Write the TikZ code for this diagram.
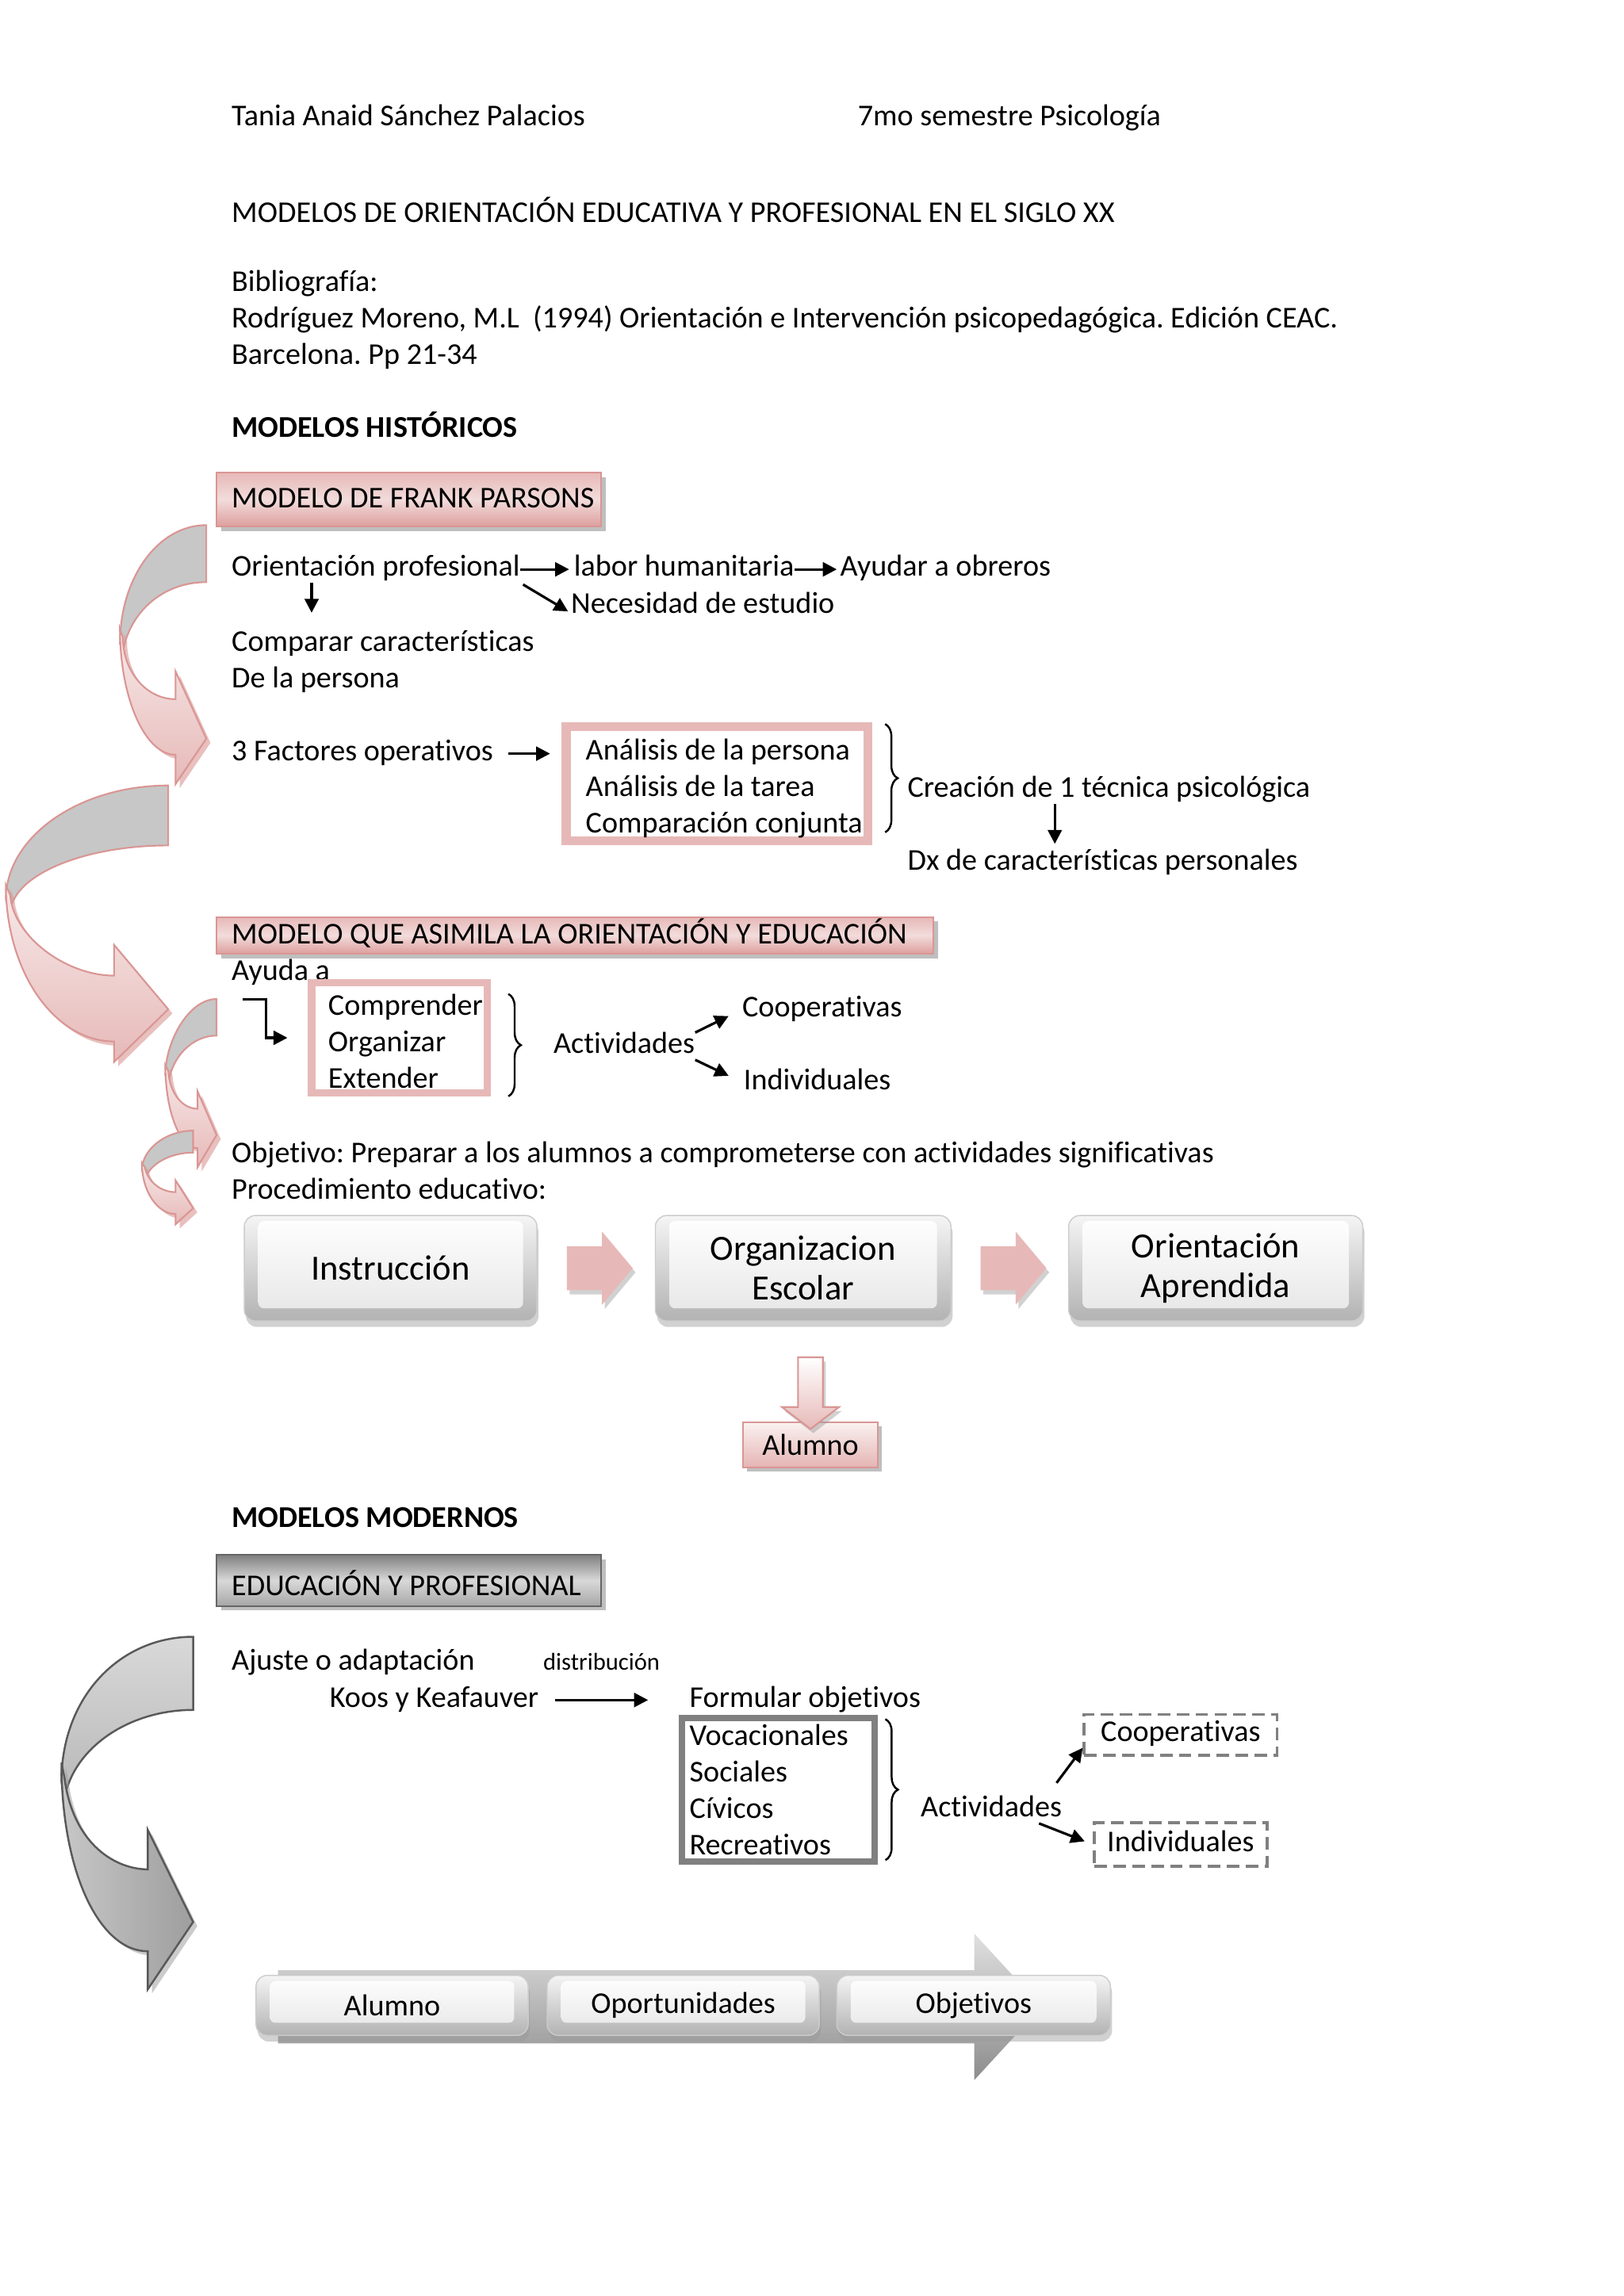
\documentclass[tikz,border=0pt]{standalone}
\usepackage{fontspec}
\setmainfont{Carlito}[Ligatures={NoCommon}]
\usetikzlibrary{arrows.meta,shadows,decorations.pathreplacing}
\newdimen\pxu \pxu=0.52495pt
\newcommand\bodyf{\fontsize{10.85pt}{13.1pt}\selectfont}
\newcommand\bigf{\fontsize{12.7pt}{14.2pt}\selectfont}
\newcommand\smallf{\fontsize{8.7pt}{10.5pt}\selectfont}
\definecolor{pinkA}{HTML}{E6B9B8}
\definecolor{pinkL}{HTML}{F2DCDB}
\definecolor{pinkD}{HTML}{D99694}
\frenchspacing
\begin{document}
\begin{tikzpicture}[x=0.01845cm,y=-0.01845cm,
  txt/.style={anchor=base west, inner sep=0pt, font=\bodyf, text height=7.2pt, text depth=2.2pt, yshift=-3\pxu},
  mtxt/.style={anchor=west, inner sep=0pt, font=\bodyf, align=left, yshift=-1\pxu},
  arr/.style={line width=0.9pt, -{Triangle[length=5pt,width=5pt]}},
  brc/.style={decorate, decoration={brace, amplitude=4.5pt}, line width=0.7pt},
  pinkhead/.style={draw=pinkD, line width=0.6pt, top color=pinkA, bottom color=pinkD!75!pinkA, middle color=pinkL, inner sep=0pt,
    drop shadow={shadow xshift=1.6pt, shadow yshift=-1.6pt, fill=black!50, opacity=0.5}},
  greyhead/.style={draw=black!60, line width=0.6pt, top color=black!50, bottom color=black!35, middle color=black!15, inner sep=0pt,
    drop shadow={shadow xshift=1.6pt, shadow yshift=-1.6pt, fill=black!50, opacity=0.5}},
  pinkframe/.style={draw=pinkA, inner sep=0pt},
  greyframe/.style={draw=black!50, line width=2.3pt, inner sep=0pt},
  dashbox/.style={draw=black!50, line width=1pt, dash pattern=on 4.5pt off 2.3pt, font=\bodyf, inner sep=0pt, text height=7.2pt, text depth=2.2pt},
  pinkbox/.style={draw=pinkD, line width=0.6pt, top color=pinkL!40!white, bottom color=pinkA!85!pinkD, font=\bodyf, inner sep=0pt,
    text height=7.2pt, text depth=0pt,
    drop shadow={shadow xshift=1.4pt, shadow yshift=-1.4pt, fill=black!50, opacity=0.5}},
  bevel/.style={rounded corners=4pt, draw=black!20, line width=0.4pt, top color=black!4, bottom color=black!30, align=center, inner sep=0pt,
    drop shadow={shadow xshift=0.6pt, shadow yshift=-2.2pt, fill=black!40, opacity=0.45},
    path picture={\shade[top color=white, bottom color=black!10, rounded corners=2pt]
      ([xshift=5pt,yshift=-2pt]path picture bounding box.north west) rectangle ([xshift=-5pt,yshift=4.5pt]path picture bounding box.south east);}},
  blockpink/.style={fill=pinkA, drop shadow={shadow xshift=1pt, shadow yshift=-1.5pt, fill=black!40, opacity=0.45}},
  pinkdown/.style={draw=pinkD, line width=0.6pt, top color=white, bottom color=pinkA,
    drop shadow={shadow xshift=1pt, shadow yshift=-1.5pt, fill=black!40, opacity=0.45}},
  bigarrow/.style={top color=black!12, bottom color=black!45},
  caback/.style={draw=pinkD, line width=0.6pt, fill=black!22},
  cafront/.style={draw=pinkD, line width=0.6pt, top color=pinkL!60!white, bottom color=pinkA,
    drop shadow={shadow xshift=1.5pt, shadow yshift=-1.5pt, fill=pinkD, opacity=0.6}},
  gback/.style={draw=black!65, line width=0.7pt, top color=black!15, bottom color=black!28},
  gfront/.style={draw=black!65, line width=0.7pt, left color=black!22, right color=black!38,
    drop shadow={shadow xshift=1.5pt, shadow yshift=-1.5pt, fill=black!40, opacity=0.5}}
]
\fill[white] (0,0) rectangle (1110,1569.7);
\useasboundingbox (0,0) rectangle (1110,1569.7);

% ---------- header ----------
\node[txt] (h1) at (158,83) {Tania Anaid Sánchez Palacios};
\node[txt] (h2) at (586,83) {7mo semestre Psicología};
\node[txt] (h3) at (158,149) {MODELOS DE ORIENTACIÓN EDUCATIVA Y PROFESIONAL EN EL SIGLO XX};
\node[txt] (h4) at (158,196) {Bibliografía:};
\node[txt] (h5) at (158,221) {Rodríguez Moreno, M.L\ \ (1994) Orientación e Intervención psicopedagógica. Edición CEAC.};
\node[txt] (h6) at (158,246) {Barcelona. Pp 21-34};
\node[txt, font=\bodyf\bfseries] (h7) at (158,296) {MODELOS HISTÓRICOS};

% ---------- curved arrows ----------
% arrow 1
\path[caback] (141,359) .. controls (108,359) and (82,395) .. (82,440) -- (84,446) .. controls (88,420) and (110,398) .. (141,398) -- cycle;
\path[cafront] (82,430) .. controls (82,477) and (99,516) .. (120,516) -- (120,536) -- (141,505) -- (120,459) -- (120,478) .. controls (100,478) and (84,459) .. (84,436) -- cycle;
% arrow 2
\path[caback] (115,537) .. controls (54,537) and (4,572) .. (4,615) -- (7,625) .. controls (7,599) and (56,578) .. (115,578) -- cycle;
\path[cafront] (4,605) .. controls (4,664) and (37,712) .. (78,712) -- (78,726) -- (115,690) -- (78,646) -- (78,667) .. controls (45,667) and (9,640) .. (7,612) -- cycle;
% arrow 3
\path[caback] (148,683) .. controls (129,683) and (113,712) .. (113,735) -- (115,742) .. controls (117,722) and (132,708) .. (148,708) -- cycle;
\path[cafront] (113,728) .. controls (113,760) and (123,785) .. (135,785) -- (135,798) -- (148,776) -- (135,746) -- (135,758) .. controls (125,758) and (116,748) .. (115,732) -- cycle;
% arrow 4
\path[caback] (132,773) .. controls (113,773) and (97,786) .. (97,800) -- (99,806) .. controls (103,795) and (117,788) .. (132,788) -- cycle;
\path[cafront] (97,795) .. controls (97,815) and (108,830) .. (120,830) -- (120,837) -- (132,826) -- (120,807) -- (120,815) .. controls (110,815) and (101,808) .. (99,798) -- cycle;
% arrow 5 (grey)
\path[gback] (132,1119) .. controls (82,1119) and (42,1160) .. (42,1218) -- (44,1230) .. controls (50,1195) and (88,1169) .. (132,1169) -- cycle;
\path[gfront] (42,1205) .. controls (42,1280) and (68,1334) .. (101,1334) -- (101,1360) -- (132,1314) -- (101,1251) -- (101,1278) .. controls (80,1278) and (50,1262) .. (44,1215) -- cycle;

% ---------- Frank Parsons ----------
\node[pinkhead, minimum width=263\pxu, minimum height=37\pxu] (b1) at (279.5,341.5) {};
\node[txt] (b1t) at (158,344) {MODELO DE FRANK PARSONS};
\node[txt] (op) at (158,391) {Orientación profesional};
\node[txt] (lh) at (392,391) {labor humanitaria};
\node[txt] (ao) at (574,391) {Ayudar a obreros};
\node[txt] (ne) at (390,416) {Necesidad de estudio};
\node[txt] (cc) at (158,442) {Comparar características};
\node[txt] (dp) at (158,467) {De la persona};
\draw[arr, shorten >=3\pxu] (op.east) -- (lh.west);
\draw[arr, shorten >=2\pxu] (lh.east) -- (ao.west);
\draw[arr, shorten <=2\pxu, shorten >=2\pxu] (op.south east) -- (ne.base west);
\draw[arr, shorten >=12\pxu] ([xshift=55\pxu]op.south west) -- ([xshift=55\pxu]cc.north west);

\node[txt] (fo) at (158,517) {3 Factores operativos};
\node[pinkframe, line width=3.15pt, minimum width=206\pxu, minimum height=78\pxu] (fa) at (490,536) {};
\draw[pinkA, line width=0.9pt] ([xshift=5\pxu,yshift=-5\pxu]fa.north west) rectangle ([xshift=-5\pxu,yshift=5\pxu]fa.south east);
\node[mtxt] (fat) at (400,538) {Análisis de la persona\\Análisis de la tarea\\Comparación conjunta};
\draw[arr, shorten <=10\pxu, shorten >=8\pxu] (fo.east) -- (fa.west |- fo.east);
\draw[brc] ([xshift=9\pxu,yshift=-1\pxu]fa.north east) -- ([xshift=9\pxu,yshift=9\pxu]fa.south east);
\node[txt] (cr) at (620,542) {Creación de 1 técnica psicológica};
\node[txt] (dx) at (620,592) {Dx de características personales};
\draw[arr] ([xshift=101\pxu]cr.south west) -- ([xshift=101\pxu,yshift=4\pxu]dx.north west);

% ---------- Modelo que asimila ----------
\node[pinkhead, minimum width=490\pxu, minimum height=25\pxu] (b2) at (393,639.5) {};
\node[txt] (b2t) at (158,642) {MODELO QUE ASIMILA LA ORIENTACIÓN Y EDUCACIÓN};
\node[txt] (aa) at (158,667) {Ayuda a};
\node[pinkframe, line width=2.6pt, minimum width=120\pxu, minimum height=75\pxu] (cb) at (273,709.5) {};
\node[mtxt] (cbt) at (224,711) {Comprender\\Organizar\\Extender};
\coordinate (bs) at (166,683);
\draw[arr] (bs) -- ++(16,0) |- ([xshift=-14\pxu]cb.west);
\draw[brc] ([xshift=12\pxu,yshift=-10\pxu]cb.north east) -- ([xshift=12\pxu]cb.south east);
\node[txt] (ac) at (378,717) {Actividades};
\node[txt] (co) at (507,692) {Cooperativas};
\node[txt] (iv) at (508,742) {Individuales};
\draw[arr, shorten >=10\pxu] (ac.north east) -- (co.west);
\draw[arr, shorten >=11\pxu] (ac.south east) -- (iv.west);
\node[txt] (ob) at (158,792) {Objetivo: Preparar a los alumnos a comprometerse con actividades significativas};
\node[txt] (pe) at (158,817) {Procedimiento educativo:};

\node[bevel, font=\bigf, minimum width=200\pxu, minimum height=72\pxu] (ins) at (267,867) {Instrucción};
\node[bevel, font=\bigf, minimum width=202\pxu, minimum height=72\pxu] (org) at (549,867) {Organizacion\\Escolar};
\node[bevel, font=\bigf, minimum width=201\pxu, minimum height=72\pxu] (ori) at (831,867) {Orientación\\Aprendida};
\path (ins.east) -- (org.west) coordinate[midway] (m1);
\path (org.east) -- (ori.west) coordinate[midway] (m2);
\path[blockpink] ([shift={(-20,-15)}]m1) -- ++(24,0) -- ++(0,-10) -- ++(21,25) -- ++(-21,25) -- ++(0,-10) -- ++(-24,0) -- cycle;
\path[blockpink] ([shift={(-20,-15)}]m2) -- ++(24,0) -- ++(0,-10) -- ++(21,25) -- ++(-21,25) -- ++(0,-10) -- ++(-24,0) -- cycle;
\node[pinkbox, minimum width=92\pxu, minimum height=31\pxu] (al) at (554,988) {Alumno};
\path[pinkdown] ([yshift=-5\pxu]al.north) -- ++(-19.5,-15) -- ++(11,0) -- ++(0,-34) -- ++(17,0) -- ++(0,34) -- ++(11,0) -- cycle;

% ---------- Modelos modernos ----------
\node[txt, font=\bodyf\bfseries] (mm) at (158,1041) {MODELOS MODERNOS};
\node[greyhead, minimum width=263\pxu, minimum height=35\pxu] (b3) at (279.5,1080.5) {};
\node[txt] (b3t) at (158,1088) {EDUCACIÓN Y PROFESIONAL};
\node[txt] (aj) at (158,1139) {Ajuste o adaptación};
\node[txt, font=\smallf] (di) at (371,1139) {distribución};
\node[txt] (ko) at (225,1164) {Koos y Keafauver};
\node[txt] (fob) at (471,1164) {Formular objetivos};
\draw[arr, shorten <=11\pxu, shorten >=28\pxu] (ko.east) -- (fob.west);
\node[greyframe, minimum width=132\pxu, minimum height=98\pxu] (vb) at (532,1223.5) {};
\node[mtxt] (vbt) at (471,1222.5) {Vocacionales\\Sociales\\Cívicos\\Recreativos};
\draw[brc] ([xshift=5\pxu,yshift=-3\pxu]vb.north east) -- ([xshift=5\pxu,yshift=3\pxu]vb.south east);
\node[txt] (ac2) at (629,1239) {Actividades};
\node[dashbox, minimum width=132\pxu, minimum height=28\pxu] (co2) at (807,1186) {Cooperativas};
\node[dashbox, minimum width=118\pxu, minimum height=30\pxu] (iv2) at (807,1261) {Individuales};
\draw[arr] ([xshift=-4\pxu,yshift=9\pxu]ac2.north east) -- ([yshift=6\pxu]co2.south west);
\draw[arr, shorten >=6\pxu] ([xshift=-16\pxu]ac2.south east) -- (iv2.west);

\path[bigarrow] (190,1347) -- (666,1347) -- (666,1322) -- (712,1372) -- (666,1422) -- (666,1397) -- (190,1397) -- cycle;
\node[bevel, font=\bodyf, minimum width=186\pxu, minimum height=41\pxu] (al2) at (268,1371) {Alumno};
\node[bevel, font=\bodyf, minimum width=186\pxu, minimum height=41\pxu] (opo) at (467,1371) {Oportunidades};
\node[bevel, font=\bodyf, minimum width=187\pxu, minimum height=41\pxu] (obj) at (665.5,1371) {Objetivos};
\end{tikzpicture}
\end{document}
